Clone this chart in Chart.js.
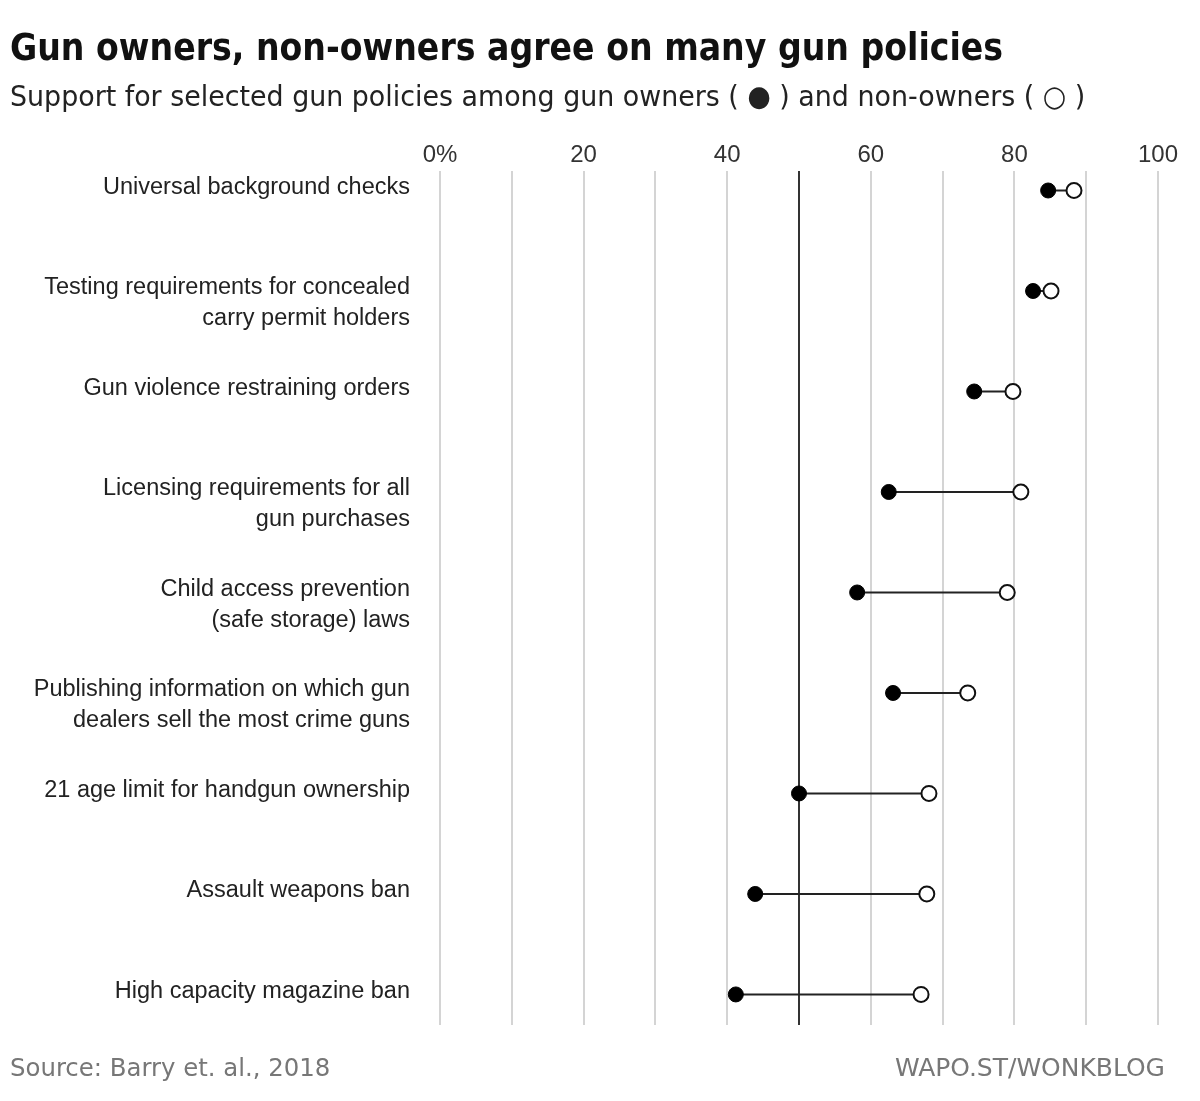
<!DOCTYPE html>
<html>
<head>
<meta charset="utf-8">
<script src="https://cdn.jsdelivr.net/npm/chart.js@4.4.1/dist/chart.umd.min.js"></script>
<style>
  body { margin: 0; background: #fff; }
  #wrap { position: relative; width: 1200px; height: 1101px; overflow: hidden; }
  #c { position: absolute; left: 0; top: 0; }
  .txt { position: absolute; white-space: nowrap; transform-origin: 0 50%; }
  #title { left: 10px; top: 26px; font: bold 37px "Liberation Sans Narrow", "DejaVu Sans Condensed", sans-serif; color: #111; }
  #sub { left: 10px; top: 79px; font: 29px "Liberation Sans Narrow", "DejaVu Sans Condensed", sans-serif; color: #222; }
  #src { left: 10px; top: 1053px; font: 25px "Liberation Sans Narrow", "DejaVu Sans Condensed", sans-serif; color: #777; }
  #wapo { left: 895px; top: 1053px; font: 25px "Liberation Sans Narrow", "DejaVu Sans Condensed", sans-serif; color: #777; }
</style>
</head>
<body>
<div id="wrap">
  <canvas id="c" width="1200" height="1101"></canvas>
  <div class="txt" id="title" data-w="993">Gun owners, non-owners agree on many gun policies</div>
  <div class="txt" id="sub" data-w="1075">Support for selected gun policies among gun owners ( ● ) and non-owners ( ○ )</div>
  <div class="txt" id="src" data-w="320">Source: Barry et. al., 2018</div>
  <div class="txt" id="wapo" data-w="270">WAPO.ST/WONKBLOG</div>
</div>
<script>
// politicas, de cima para baixo
const politicas = [
    ['Universal background checks'],
    ['Testing requirements for concealed', 'carry permit holders'],
    ['Gun violence restraining orders'],
    ['Licensing requirements for all', 'gun purchases'],
    ['Child access prevention', '(safe storage) laws'],
    ['Publishing information on which gun', 'dealers sell the most crime guns'],
    ['21 age limit for handgun ownership'],
    ['Assault weapons ban'],
    ['High capacity magazine ban']
];
const donos = [84.7, 82.6, 74.4, 62.5, 58.1, 63.1, 50.0, 43.9, 41.2];      // gun owners
const naoDonos = [88.3, 85.1, 79.8, 80.9, 79.0, 73.5, 68.1, 67.8, 67.0];  // non-owners
const ticksX = [0, 10, 20, 30, 40, 50, 60, 70, 80, 90, 100];

// ajusta largura dos textos html
document.querySelectorAll('.txt').forEach(function(el) {
    const alvo = parseFloat(el.dataset.w);
    const w = el.offsetWidth;
    if (w > 0) el.style.transform = 'scaleX(' + (alvo / w) + ')';
});
document.getElementById('wapo').style.left = (1165 - 270) + 'px';

const pontosDonos = donos.map(function(v, i) { return { x: v, y: i }; });
const pontosNao = naoDonos.map(function(v, i) { return { x: v, y: i }; });

const ligacoes = donos.map(function(v, i) {
    return {
        data: [{ x: v, y: i }, { x: naoDonos[i], y: i }],
        showLine: true,
        borderColor: '#222',
        borderWidth: 2,
        pointRadius: 0,
        order: 2
    };
});

// desenha os nomes das politicas a esquerda
const rotulos = {
    id: 'rotulos',
    afterDraw: function(chart) {
        const ctx = chart.ctx;
        const y = chart.scales.y;
        ctx.save();
        ctx.font = '23.5px "Liberation Sans", Arial, sans-serif';
        ctx.fillStyle = '#222';
        ctx.textAlign = 'right';
        ctx.textBaseline = 'middle';
        politicas.forEach(function(linhas, i) {
            const py = y.getPixelForValue(i) - 3;
            linhas.forEach(function(t, j) {
                ctx.fillText(t, 410, py + j * 31);
            });
        });
        ctx.restore();
    }
};

new Chart(document.getElementById('c'), {
    type: 'scatter',
    data: {
        datasets: [
            {
                label: 'Gun owners',
                data: pontosDonos,
                backgroundColor: '#000',
                borderColor: '#000',
                borderWidth: 1,
                pointRadius: 7.5,
                order: 0
            },
            {
                label: 'Non-owners',
                data: pontosNao,
                backgroundColor: '#fff',
                borderColor: '#111',
                borderWidth: 2,
                pointRadius: 7.5,
                order: 0
            }
        ].concat(ligacoes)
    },
    options: {
        responsive: false,
        animation: false,
        layout: { padding: { left: 440, right: 42, top: 140, bottom: 76 } },
        plugins: { legend: { display: false }, tooltip: { enabled: false } },
        scales: {
            x: {
                type: 'linear',
                position: 'top',
                min: 0,
                max: 100,
                afterBuildTicks: function(axis) {
                    axis.ticks = ticksX.map(function(v) { return { value: v }; });
                },
                ticks: {
                    padding: 1,
                    color: '#333',
                    font: { family: '"Liberation Sans", Arial, sans-serif', size: 24 },
                    callback: function(v) {
                        if (v % 20 !== 0) return '';
                        return v === 0 ? '0%' : String(v);
                    }
                },
                grid: {
                    drawTicks: false,
                    color: function(c) { return c.tick && c.tick.value === 50 ? '#333' : '#d4d4d4'; },
                    lineWidth: 2
                },
                border: { display: false }
            },
            y: {
                type: 'linear',
                display: false,
                reverse: true,
                min: -0.196,
                max: 8.304
            }
        }
    },
    plugins: [rotulos]
});
</script>
</body>
</html>
